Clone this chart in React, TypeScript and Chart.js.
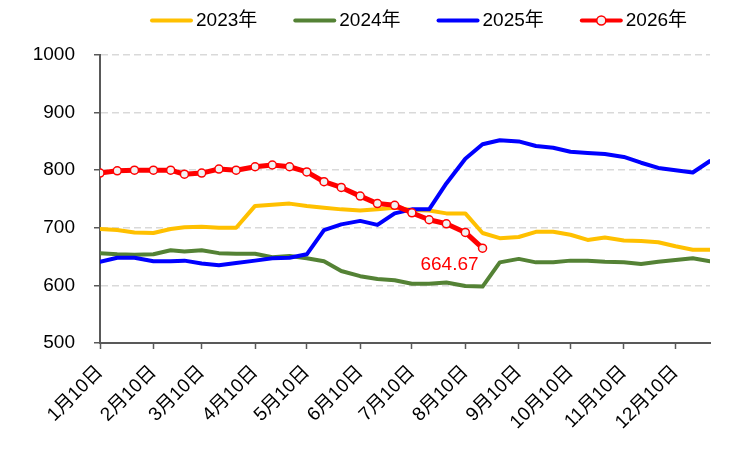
import { useEffect, useRef } from "react"
import { Chart, registerables, Plugin } from "chart.js"

Chart.register(...registerables)

const FONT = "'Liberation Sans', Arial, 'Noto Sans CJK SC', sans-serif"
Chart.defaults.font.family = FONT

// dates of the points (month-day), 10th / 20th / 30th of every month
const dates = [
  "1-10", "1-20", "1-30", "2-10", "2-20", "2-28", "3-10", "3-20", "3-30",
  "4-10", "4-20", "4-30", "5-10", "5-20", "5-30", "6-10", "6-20", "6-30",
  "7-10", "7-20", "7-30", "8-10", "8-20", "8-30", "9-10", "9-20", "9-30",
  "10-10", "10-20", "10-30", "11-10", "11-20", "11-30", "12-10", "12-20", "12-30",
]

const tickDates = ["1-10", "2-10", "3-10", "4-10", "5-10", "6-10", "7-10", "8-10", "9-10", "10-10", "11-10", "12-10"]
const tickLabels = ["1月10日", "2月10日", "3月10日", "4月10日", "5月10日", "6月10日", "7月10日", "8月10日", "9月10日", "10月10日", "11月10日", "12月10日"]

const values2023 = [
  698, 696, 692, 691, 698, 701, 702, 700, 700, 738, 740, 742,
  738, 735, 732, 730, 732, 735, 731, 730, 725, 725, 691, 682,
  684, 693, 693, 688, 679, 683, 678, 677, 675, 668, 662, 662,
]
const values2024 = [
  656, 654, 653, 654, 661, 659, 661, 656, 655, 655, 649, 651,
  647, 642, 625, 616, 611, 609, 603, 603, 605, 599, 598, 640,
  646, 640, 640, 643, 643, 641, 640, 637, 641, 644, 647, 642,
]
const values2025 = [
  641, 648, 648, 642, 642, 643, 638, 635, 639, 643, 647, 648,
  654, 696, 706, 712, 705, 725, 732, 732, 777, 820, 845, 852,
  850, 842, 839, 832, 830, 828, 823, 813, 804, 800, 796, 816,
]
const values2026 = [
  795, 799, 800, 800, 800, 793, 795, 802, 800, 806, 809, 806,
  797, 780, 770, 755, 742, 739, 726, 714, 707, 692, 664.67,
]

const monthStart = [0, 31, 59, 90, 120, 151, 181, 212, 243, 273, 304, 334]
const dayOfYear = (md: string) => {
  const [m, d] = md.split("-").map(Number)
  return monthStart[m - 1] + d
}
const toPoints = (values: number[]) => values.map((v, i) => ({ x: dayOfYear(dates[i]), y: v }))

// legend row above the plot, Excel style
const topLegend: Plugin<"line"> = {
  id: "topLegend",
  afterDraw(chart) {
    const { ctx } = chart
    const y = 20.5
    let x = 150
    ctx.save()
    ctx.font = `19px ${FONT}`
    ctx.textBaseline = "middle"
    chart.data.datasets.forEach((ds: any) => {
      ctx.strokeStyle = ds.borderColor
      ctx.lineWidth = 4
      ctx.lineCap = "round"
      ctx.beginPath()
      ctx.moveTo(x + 2, y)
      ctx.lineTo(x + 41, y)
      ctx.stroke()
      if (ds.pointRadius > 0) {
        ctx.beginPath()
        ctx.arc(x + 21.5, y, 4.5, 0, Math.PI * 2)
        ctx.fillStyle = ds.pointBackgroundColor
        ctx.fill()
        ctx.lineWidth = 1.5
        ctx.stroke()
      }
      ctx.fillStyle = "#000"
      ctx.fillText(ds.label, x + 46, y)
      x += 46 + ctx.measureText(ds.label).width + 36
    })
    ctx.restore()
  },
}

// value label on the latest 2026 point
const lastValueLabel: Plugin<"line"> = {
  id: "lastValueLabel",
  afterDatasetsDraw(chart) {
    const meta = chart.getDatasetMeta(3)
    const last = meta.data[meta.data.length - 1]
    if (!last) return
    const { ctx } = chart
    ctx.save()
    ctx.font = `19px ${FONT}`
    ctx.fillStyle = "#FF0000"
    ctx.textAlign = "right"
    ctx.textBaseline = "middle"
    ctx.fillText(values2026[values2026.length - 1].toFixed(2), last.x - 4, last.y + 17)
    ctx.restore()
  },
}

function PriceChart() {
  const chartRef = useRef<HTMLCanvasElement>(null)
  const chartInstance = useRef<Chart | null>(null)

  useEffect(() => {
    if (!chartRef.current) return

    if (chartInstance.current) {
      chartInstance.current.destroy()
    }

    const ctx = chartRef.current.getContext("2d")
    if (!ctx) return

    chartInstance.current = new Chart(ctx, {
      type: "line",
      data: {
        datasets: [
          {
            label: "2023年",
            data: toPoints(values2023),
            borderColor: "#FFC000",
            borderWidth: 4,
            pointRadius: 0,
            order: 4,
          },
          {
            label: "2024年",
            data: toPoints(values2024),
            borderColor: "#548235",
            borderWidth: 4,
            pointRadius: 0,
            order: 3,
          },
          {
            label: "2025年",
            data: toPoints(values2025),
            borderColor: "#0000FF",
            borderWidth: 4,
            pointRadius: 0,
            order: 2,
          },
          {
            label: "2026年",
            data: toPoints(values2026),
            borderColor: "#FF0000",
            borderWidth: 5,
            pointRadius: 4,
            pointBorderWidth: 1.5,
            pointBorderColor: "#FF0000",
            pointBackgroundColor: "#F2F2F2",
            order: 1,
          },
        ],
      },
      options: {
        animation: false,
        responsive: true,
        maintainAspectRatio: false,
        layout: {
          padding: { top: 55, right: 30, left: 0, bottom: 0 },
        },
        elements: {
          line: { tension: 0, borderJoinStyle: "round", borderCapStyle: "round" },
        },
        scales: {
          x: {
            type: "linear",
            min: dayOfYear(dates[0]),
            max: dayOfYear(dates[dates.length - 1]),
            afterBuildTicks: (scale) => {
              scale.ticks = tickDates.map((d) => ({ value: dayOfYear(d) }))
            },
            afterFit: (scale) => {
              scale.height = 111
            },
            ticks: {
              autoSkip: false,
              minRotation: 45,
              maxRotation: 45,
              padding: 12,
              color: "#000",
              font: { size: 19 },
              callback: (_value, index) => tickLabels[index],
            },
            grid: {
              drawOnChartArea: false,
              drawTicks: true,
              tickLength: 6,
              tickColor: "#595959",
              tickWidth: 1.5,
            },
            border: { color: "#595959", width: 2 },
          },
          y: {
            min: 500,
            max: 1000,
            afterFit: (scale) => {
              scale.width = 100
            },
            ticks: {
              stepSize: 100,
              padding: 19,
              color: "#000",
              font: { size: 19 },
              callback: (value) => String(value),
            },
            grid: {
              color: (c) => (c.tick && c.tick.value === 500 ? "rgba(0,0,0,0)" : "#D9D9D9"),
              lineWidth: 1.5,
              tickLength: 6,
              tickColor: "#595959",
              tickWidth: 1.5,
            },
            border: { color: "#595959", width: 2, dash: [7, 4] },
          },
        },
        plugins: {
          legend: { display: false },
          tooltip: { enabled: false },
        },
      },
      plugins: [topLegend, lastValueLabel],
    })

    return () => {
      if (chartInstance.current) {
        chartInstance.current.destroy()
        chartInstance.current = null
      }
    }
  }, [])

  return (
    <div style={{ position: "fixed", left: 0, top: 0, width: 740, height: 454, background: "#fff" }}>
      <canvas ref={chartRef} />
    </div>
  )
}

export default function App() {
  return <PriceChart />
}
